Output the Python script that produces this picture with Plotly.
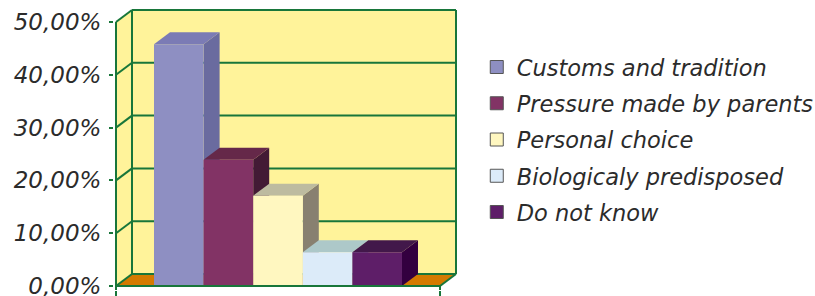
import plotly.graph_objects as go

# ---- data ----
categories = ["Customs and tradition", "Pressure made by parents", "Personal choice",
              "Biologicaly predisposed", "Do not know"]
values = [45.8, 23.9, 17.1, 6.4, 6.4]
front_colors = ["#8E8FC2", "#823365", "#FFF7C0", "#DCEBF9", "#5E1E68"]
top_colors = ["#7B7BB5", "#652849", "#BDBBA0", "#ADC8C9", "#42184A"]
side_colors = ["#6A6B9F", "#431A35", "#888070", "#9AAAB8", "#33003F"]
tick_vals = [0, 10, 20, 30, 40, 50]
tick_text = ["0,00%", "10,00%", "20,00%", "30,00%", "40,00%", "50,00%"]

# ---- geometry (pixel scale of axes) ----
W, H = 815, 296
PX_X = 324.0          # px per x unit (front plane from -0.5 to 0.5)
PX_Y = 5.28           # px per percent
DX = 16 / PX_X        # depth offset in x units
DY = 12 / PX_Y        # depth offset in y units
L, R, T, B = 114, 357, 8, 6
x_range = [-0.5 - 2 / PX_X, -0.5 + (W - R - L - 2) / PX_X]
y_range = [-4 / PX_Y, -4 / PX_Y + (H - T - B) / PX_Y]
YMAX = 50

WALL = "#FFF39A"
FLOOR = "#D47A00"
GREEN = "#18763A"
TXT = "#2B2B2B"
FONT = "DejaVu Sans"

group_w = 0.7654
bar_w = group_w / len(values)

fig = go.Figure()
shapes = []


def poly(pts, fill, line_color=None, lw=0, layer="below"):
    d = "M " + " L ".join(f"{x},{y}" for x, y in pts) + " Z"
    return dict(type="path", path=d, xref="x", yref="y", fillcolor=fill,
                line=dict(color=line_color or fill, width=lw), layer=layer)


def seg(x0, y0, x1, y1, color=GREEN, w=2, layer="below"):
    return dict(type="line", x0=x0, y0=y0, x1=x1, y1=y1, xref="x", yref="y",
                line=dict(color=color, width=w), layer=layer)


xl, xr = -0.5, 0.5
# side wall and back wall
shapes.append(poly([(xl, 0), (xl + DX, DY), (xl + DX, YMAX + DY), (xl, YMAX)], WALL))
shapes.append(poly([(xl + DX, DY), (xr + DX, DY), (xr + DX, YMAX + DY), (xl + DX, YMAX + DY)], WALL))
# gridlines
for v in tick_vals[1:-1]:
    shapes.append(seg(xl, v, xl + DX, v + DY))
    shapes.append(seg(xl + DX, v + DY, xr + DX, v + DY))
# wall edges
shapes.append(seg(xl, YMAX, xl + DX, YMAX + DY))
shapes.append(seg(xl + DX, YMAX + DY, xr + DX, YMAX + DY))
shapes.append(seg(xl + DX, DY, xl + DX, YMAX + DY))
shapes.append(seg(xr + DX, DY, xr + DX, YMAX + DY))
# floor
shapes.append(poly([(xl, 0), (xr, 0), (xr + DX, DY), (xl + DX, DY)], FLOOR))
shapes.append(seg(xl, 0, xl + DX, DY))
shapes.append(seg(xl + DX, DY, xr + DX, DY))
shapes.append(seg(xr, 0, xr + DX, DY))

# bars: front faces as bar traces, tops/sides as shapes
for i, (name, v) in enumerate(zip(categories, values)):
    b0 = -group_w / 2 + i * bar_w
    b1 = b0 + bar_w
    shapes.append(poly([(b1, 0), (b1 + DX, DY), (b1 + DX, v + DY), (b1, v)], side_colors[i]))
    shapes.append(poly([(b0, v), (b1, v), (b1 + DX, v + DY), (b0 + DX, v + DY)], top_colors[i]))
    fig.add_trace(go.Bar(x=[0], y=[v], width=[bar_w], offset=[b0], name=name,
                         marker=dict(color=front_colors[i], line=dict(width=0)),
                         showlegend=False, hoverinfo="skip"))
    fig.add_trace(go.Scatter(x=[None], y=[None], mode="markers", name=name,
                             legendgroup=f"g{i}",
                             marker=dict(symbol="square", size=13, color=front_colors[i],
                                         line=dict(color="#555555", width=1))))

# front edges (above)
shapes.append(seg(xl, 0, xr, 0, layer="above"))
shapes.append(seg(xl, 0, xl, YMAX, layer="above"))
shapes.append(seg(xl, 0, xl, y_range[0], layer="above"))
shapes.append(seg(xr, 0, xr, y_range[0], layer="above"))

fig.update_layout(
    width=W, height=H,
    margin=dict(l=L, r=R, t=T, b=B, pad=0, autoexpand=False),
    paper_bgcolor="white", plot_bgcolor="white",
    barmode="overlay",
    shapes=shapes,
    showlegend=True,
    legend=dict(xref="container", yref="container", x=0.585, y=0.845, xanchor="left", yanchor="top",
                font=dict(family=FONT, size=22.5, color=TXT, style="italic"),
                tracegroupgap=4, bgcolor="rgba(0,0,0,0)", maxheight=1.0),
    xaxis=dict(range=x_range, showgrid=False, zeroline=False, showline=False, automargin=False,
               tickvals=[-0.5, 0.5], ticks="outside", ticklen=6, tickwidth=2, tickcolor=GREEN,
               showticklabels=False, fixedrange=True),
    yaxis=dict(range=y_range, showgrid=False, zeroline=False, showline=False, automargin=False,
               tickvals=tick_vals, ticktext=tick_text, ticks="outside", ticklen=4,
               tickwidth=2, tickcolor=GREEN, ticklabelstandoff=3, ticklabeloverflow="allow",
               tickfont=dict(family=FONT, size=23, color=TXT, style="italic"), fixedrange=True),
)

fig.write_html("out.html", config={"displayModeBar": False, "staticPlot": True},
               post_script="document.body.style.margin='0';document.body.style.overflow='hidden';")
